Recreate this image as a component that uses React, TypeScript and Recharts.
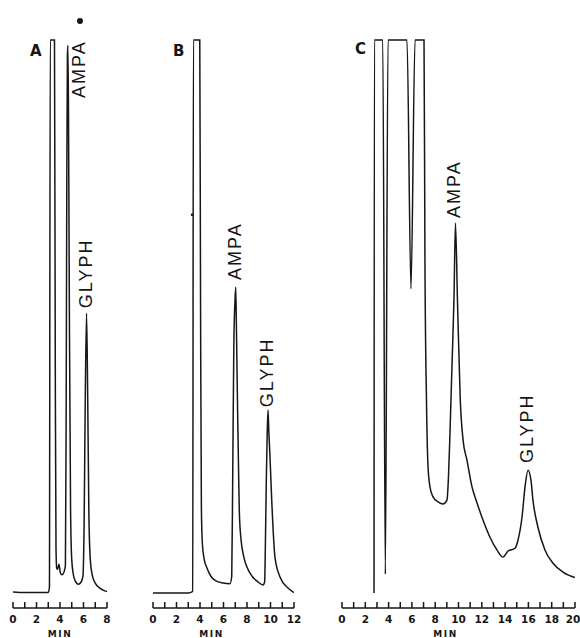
import React from "react";
import { LineChart, Line, XAxis, YAxis, ReferenceDot } from "recharts";

// Chromatograms, detector signal in % of full scale (100 = off-scale, flat top)

// A: standard, 0-8 min
const timeA = [0, 1, 2, 3.0, 3.1, 3.17, 3.53, 3.6, 3.66, 3.72, 3.79, 3.91, 4.04, 4.17, 4.34, 4.46, 4.52, 4.58, 4.63, 4.67, 4.72, 4.8, 4.9, 5.0, 5.15, 5.3, 5.55, 5.8, 5.95, 6.05, 6.15, 6.26, 6.36, 6.46, 6.58, 6.75, 7.0, 7.4, 7.8, 8.0];
const signalA = [0.2, 0.1, 0.1, 0.1, 1, 100, 100, 40, 8, 4.5, 4.3, 5.2, 3.6, 3.3, 3.8, 5, 30, 75, 97, 99, 88, 50, 15, 6, 3.2, 2.2, 1.6, 2.0, 3, 12, 35, 50.6, 35, 14, 6, 3.2, 1.8, 0.9, 0.4, 0.3];
const ticksA = [0, 1, 2, 3, 4, 5, 6, 7, 8];

// B: 0-12 min
const timeB = [0, 1, 2, 3, 3.38, 3.44, 3.98, 4.05, 4.12, 4.2, 4.35, 4.6, 4.94, 5.36, 5.96, 6.55, 6.7, 6.78, 6.88, 6.98, 7.04, 7.1, 7.2, 7.3, 7.35, 7.5, 7.66, 8.26, 8.94, 9.36, 9.5, 9.56, 9.64, 9.72, 9.79, 9.86, 9.95, 10.1, 10.38, 10.81, 11.49, 12.0];
const signalB = [0, 0, 0, 0, 0.3, 100, 100, 50, 15, 9, 6.2, 4.5, 3.0, 2.2, 1.8, 1.7, 3, 20, 45, 53, 55.3, 48, 33, 20, 14.5, 9.5, 7.2, 3.6, 2.0, 1.45, 2, 8, 20, 29, 33.1, 29, 25, 17, 6.5, 2.9, 0.9, 0.1];
const ticksB = [0, 1, 2, 3, 4, 5, 6, 7, 8, 9, 10, 11, 12];

// C: 0-20 min
const timeC = [2.75, 2.78, 3.5, 3.72, 3.95, 5.58, 5.92, 6.27, 7.04, 7.12, 7.25, 7.38, 7.55, 7.81, 8.24, 8.67, 9.01, 9.14, 9.27, 9.44, 9.61, 9.74, 9.91, 10.15, 10.39, 10.73, 11.16, 11.59, 12.1, 12.7, 13.3, 13.82, 14.25, 14.85, 15.11, 15.45, 15.71, 15.97, 16.22, 16.39, 16.82, 17.42, 18.11, 18.97, 20.0];
const signalC = [0, 100, 100, 3.4, 100, 100, 55, 100, 100, 60, 35, 23, 19.2, 17.4, 16.5, 16.1, 16.8, 21, 29, 41, 53, 66.9, 53, 35, 27.7, 24, 19.2, 16.3, 13.2, 10.1, 7.8, 6.5, 7.6, 8.1, 9.6, 13.7, 19.2, 22.2, 20.4, 16.8, 11.9, 7.8, 5.4, 3.8, 2.8];
const ticksC = [0, 1, 2, 3, 4, 5, 6, 7, 8, 9, 10, 11, 12, 13, 14, 15, 16, 17, 18, 19, 20];

const Y_DOMAIN: [number, number] = [-2.7, 104.5];
const INK = "#161616";
const H = 638;

const zip = (t: number[], s: number[]) => t.map((x, i) => ({ t: x, v: s[i] }));

function MinuteTick(props: any) {
  const { x, y, payload } = props;
  const v = payload.value as number;
  // keep the last "20" inside the picture
  const nudge = v === 20 ? -2 : 0;
  return (
    <g>
      <line x1={x} y1={y} x2={x} y2={y - 6} stroke={INK} strokeWidth={1.5} />
      {v % 2 === 0 && (
        <text
          x={x + nudge}
          y={y + 15}
          textAnchor="middle"
          fontFamily="DejaVu Sans"
          fontWeight="bold"
          fontSize={10.5}
          fill={INK}
        >
          {v}
        </text>
      )}
    </g>
  );
}

function peakLabel(text: string) {
  return (p: any) => (
    <text
      x={p.cx}
      y={p.cy}
      dy="0.36em"
      transform={`rotate(-90 ${p.cx} ${p.cy})`}
      fontFamily="Liberation Sans"
      fontSize={18}
      letterSpacing={2}
      fill={INK}
    >
      {text}
    </text>
  );
}

function Panel({
  left,
  width,
  marginLeft,
  marginRight,
  data,
  ticks,
  minDx,
  children,
}: {
  left: number;
  width: number;
  marginLeft: number;
  marginRight: number;
  data: { t: number; v: number }[];
  ticks: number[];
  minDx: number;
  children?: React.ReactNode;
}) {
  const max = ticks[ticks.length - 1];
  return (
    <div style={{ position: "absolute", left, top: 0 }}>
      <LineChart
        width={width}
        height={H}
        data={data}
        margin={{ top: 15, right: marginRight, bottom: 0, left: marginLeft }}
      >
        <XAxis
          dataKey="t"
          type="number"
          domain={[0, max]}
          ticks={ticks}
          interval={0}
          height={30}
          tickSize={0}
          tickMargin={0}
          tickLine={false}
          axisLine={{ stroke: INK, strokeWidth: 1.6 }}
          tick={<MinuteTick />}
          allowDataOverflow
          label={{
            content: (p: any) => (
              <text
                x={p.viewBox.x + p.viewBox.width / 2 + minDx}
                y={637}
                textAnchor="middle"
                fontFamily="DejaVu Sans"
                fontWeight="bold"
                fontSize={9}
                letterSpacing={1.5}
                fill={INK}
              >
                MIN
              </text>
            ),
          }}
        />
        <YAxis hide type="number" domain={Y_DOMAIN} allowDataOverflow />
        <Line
          type="monotone"
          dataKey="v"
          stroke={INK}
          strokeWidth={1.5}
          dot={false}
          isAnimationActive={false}
        />
        {children}
      </LineChart>
    </div>
  );
}

export default function App() {
  const letter = { fontFamily: "DejaVu Sans", fontWeight: "bold", fontSize: 15, fill: INK } as const;
  return (
    <div style={{ position: "absolute", left: 0, top: 0, width: 580, height: H, background: "#fff" }}>
      <Panel left={0} width={120} marginLeft={13} marginRight={13} data={zip(timeA, signalA)} ticks={ticksA} minDx={0}>
        <ReferenceDot x={5.7} y={103.4} r={3} fill={INK} stroke="none" />
        <ReferenceDot x={5.57} y={89.5} r={0} shape={peakLabel("AMPA")} />
        <ReferenceDot x={6.18} y={51.5} r={0} shape={peakLabel("GLYPH")} />
      </Panel>
      <Panel left={140} width={170} marginLeft={13} marginRight={16} data={zip(timeB, signalB)} ticks={ticksB} minDx={-12}>
        <ReferenceDot x={3.32} y={68.4} r={1.3} fill={INK} stroke="none" />
        <ReferenceDot x={6.98} y={56.6} r={0} shape={peakLabel("AMPA")} />
        <ReferenceDot x={9.7} y={33.6} r={0} shape={peakLabel("GLYPH")} />
      </Panel>
      <Panel left={330} width={250} marginLeft={12} marginRight={5} data={zip(timeC, signalC)} ticks={ticksC} minDx={-13}>
        <ReferenceDot x={9.61} y={67.8} r={0} shape={peakLabel("AMPA")} />
        <ReferenceDot x={15.88} y={23.5} r={0} shape={peakLabel("GLYPH")} />
      </Panel>
      <svg width={580} height={H} style={{ position: "absolute", left: 0, top: 0, pointerEvents: "none" }}>
        <text x={30} y={56} {...letter}>A</text>
        <text x={173} y={56} {...letter}>B</text>
        <text x={355} y={54} {...letter}>C</text>
      </svg>
    </div>
  );
}
